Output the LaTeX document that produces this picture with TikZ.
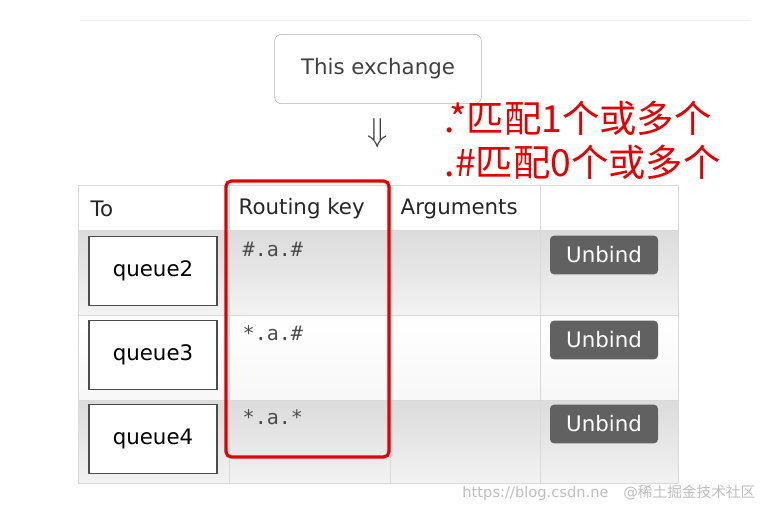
\documentclass[tikz,border=0pt]{standalone}
\usepackage{fontspec}
\setmainfont{DejaVu Sans}
\setmonofont{DejaVu Sans Mono}
\newfontfamily\cjk{Noto Sans CJK SC}
\begin{document}
\begin{tikzpicture}[x=0.75pt,y=-0.75pt,
  cell/.style={draw=black!15,line width=0.6pt},
  qbox/.style={draw=black!70,fill=white,line width=0.8pt,minimum width=96pt,minimum height=52pt,font=\fontsize{16}{18}\selectfont},
  ubtn/.style={fill=black!62,rounded corners=3pt,text=white,minimum width=81pt,minimum height=29pt,font=\fontsize{16}{18}\selectfont},
  rk/.style={anchor=north west,font=\ttfamily\fontsize{15}{16}\selectfont,text=black!70},
  hd/.style={anchor=west,font=\fontsize{16}{18}\selectfont,text=black!85},
  rd/.style={anchor=west,text=red!90!black,font=\cjk\fontsize{28}{30}\selectfont}]
\useasboundingbox (0,0) rectangle (774,517);
\fill[white] (0,0) rectangle (774,517);
\draw[black!5] (80,20) -- (750,20);
\node[draw=black!30,rounded corners=5pt,minimum width=155pt,minimum height=52pt,text=black!75,font=\fontsize{16}{18}\selectfont] (ex) at (378,69) {This exchange};
\node[font=\fontsize{28}{30}\selectfont,text=black!75] (arr) at (378,133) {$\Downarrow$};
\node[rd] (r1) at (440,118) {.*匹配1个或多个};
\node[rd] (r2) at (440,162) {.\#匹配0个或多个};
\shade[top color=black!14,bottom color=black!5] (78,230) rectangle (678,315);
\shade[top color=white,bottom color=black!3] (78,315) rectangle (678,400);
\shade[top color=black!14,bottom color=black!5] (78,400) rectangle (678,483);
\foreach \y in {185,230,315,400,483} \draw[cell] (78,\y) -- (678,\y);
\foreach \x in {78,229,390,540,678} \draw[cell] (\x,185) -- (\x,483);
\node[hd] (h1) at (86,209) {To};
\node[hd] (h2) at (234,209) {Routing key};
\node[hd] (h3) at (396,209) {Arguments};
\node[qbox] (q2) at (153,271) {queue2};
\node[qbox] (q3) at (153,355) {queue3};
\node[qbox] (q4) at (153,439) {queue4};
\node[rk] (k2) at (238,237) {\#.a.\#};
\node[rk] (k3) at (238,321) {*.a.\#};
\node[rk] (k4) at (238,405) {*.a.*};
\node[ubtn] (u2) at (604,255) {Unbind};
\node[ubtn] (u3) at (604,340) {Unbind};
\node[ubtn] (u4) at (604,424) {Unbind};
\draw[red!90!black,line width=2.4pt,rounded corners=4pt] (226,181) rectangle (389,457);
\node[anchor=east,text=black!25,font=\fontsize{11}{13}\selectfont] (wm) at (760,493) {https://blog.csdn.ne\quad @{\cjk 稀土掘金技术社区}};
\end{tikzpicture}
\end{document}
